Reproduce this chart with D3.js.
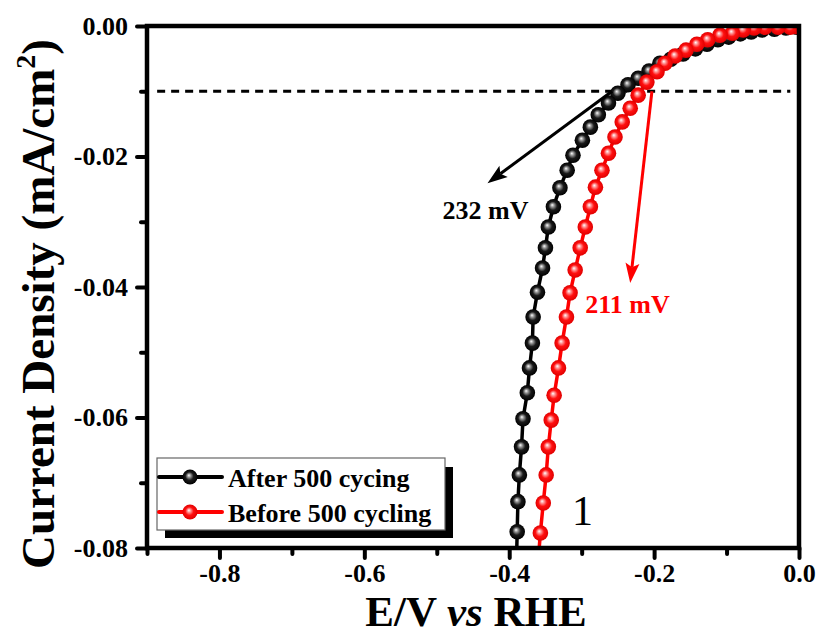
<!DOCTYPE html>
<html><head><meta charset="utf-8">
<script src="https://cdn.jsdelivr.net/npm/d3@7"></script>
<style>body{margin:0;background:#fff}svg{display:block}</style>
</head><body><svg id="chart" width="819" height="637"></svg>
<script>
// ---- data ----
const seriesNames = ["After 500 cycing", "Before 500 cycling"];
const afterX = [-0.003,-0.018,-0.034,-0.051,-0.066,-0.081,-0.097,-0.112,-0.127,-0.143,-0.160,-0.177,-0.192,-0.207,-0.222,-0.236,-0.250,-0.263,-0.277,-0.288,-0.299,-0.312,-0.320,-0.330,-0.339,-0.346,-0.350,-0.354,-0.361,-0.367,-0.368,-0.372,-0.375,-0.381,-0.383,-0.386,-0.388,-0.389];
const afterY = [-0.0002,-0.0003,-0.0005,-0.0006,-0.0009,-0.0012,-0.0017,-0.0021,-0.0028,-0.0035,-0.0043,-0.0051,-0.0057,-0.0069,-0.0080,-0.0090,-0.0103,-0.0118,-0.0136,-0.0155,-0.0175,-0.0198,-0.0221,-0.0248,-0.0277,-0.0308,-0.0340,-0.0371,-0.0408,-0.0446,-0.0486,-0.0524,-0.0562,-0.0602,-0.0645,-0.0688,-0.0729,-0.0775];
const beforeX = [-0.003,-0.012,-0.029,-0.047,-0.062,-0.077,-0.092,-0.109,-0.126,-0.141,-0.156,-0.171,-0.185,-0.196,-0.210,-0.222,-0.233,-0.244,-0.254,-0.263,-0.272,-0.281,-0.288,-0.295,-0.302,-0.309,-0.316,-0.321,-0.327,-0.332,-0.338,-0.342,-0.346,-0.349,-0.353,-0.357];
const beforeY = [-0.0001,-0.0002,-0.0002,-0.0002,-0.0003,-0.0006,-0.0011,-0.0014,-0.0021,-0.0028,-0.0037,-0.0046,-0.0057,-0.0070,-0.0086,-0.0106,-0.0126,-0.0147,-0.0170,-0.0195,-0.0221,-0.0247,-0.0277,-0.0308,-0.0340,-0.0374,-0.0409,-0.0446,-0.0486,-0.0524,-0.0566,-0.0604,-0.0645,-0.0688,-0.0731,-0.0777];
// line continuation below the last symbol (runs out of the frame)
const afterTail = [[-0.389,-0.0775],[-0.390,-0.0820]];
const beforeTail = [[-0.357,-0.0777],[-0.360,-0.0820]];

const xTicks = [-0.8,-0.6,-0.4,-0.2,0.0];
const xTickLabels = ["-0.8","-0.6","-0.4","-0.2","0.0"];
const xMinorTicks = [-0.9,-0.7,-0.5,-0.3,-0.1];
const yTicks = [0,-0.02,-0.04,-0.06,-0.08];
const yTickLabels = ["0.00","-0.02","-0.04","-0.06","-0.08"];
const yMinorTicks = [-0.01,-0.03,-0.05,-0.07];
const refCurrent = -0.01;
const refRange = [-0.886,-0.012];
const arrowBlack = {from:[-0.258,-0.0100], to:[-0.430,-0.0241], label:"232 mV", at:[-0.492,-0.0296]};
const arrowRed   = {from:[-0.203,-0.0100], to:[-0.233,-0.0394], label:"211 mV", at:[-0.295,-0.0440]};
const panelLabel = {text:"1", at:[-0.299,-0.0765]};

// ---- layout ----
const svg = d3.select("#chart");
const L = 147, R = 799, T = 26, B = 548;
const x = d3.scaleLinear().domain([-0.9, 0]).range([L, R]);
const y = d3.scaleLinear().domain([-0.08, 0]).range([B, T]);
const serif = "'Liberation Serif','Times New Roman',Times,serif";

const defs = svg.append("defs");
defs.append("clipPath").attr("id","plotClip").append("rect")
  .attr("x",L).attr("y",T).attr("width",R-L).attr("height",B-T);
function grad(id, stops){
  const g = defs.append("radialGradient").attr("id",id)
    .attr("cx","0.5").attr("cy","0.5").attr("r","0.5").attr("fx","0.42").attr("fy","0.38");
  stops.forEach(s=>g.append("stop").attr("offset",s[0]).attr("stop-color",s[1]));
}
grad("gBlack",[["0%","#ffffff"],["22%","#9a9a9a"],["55%","#1a1a1a"],["100%","#000000"]]);
grad("gRed",[["0%","#ffffff"],["22%","#ff9a9a"],["55%","#ff1010"],["100%","#e00000"]]);

// reference dashed line
svg.append("line")
  .attr("x1",x(refRange[0])).attr("x2",x(refRange[1]))
  .attr("y1",y(refCurrent)).attr("y2",y(refCurrent))
  .attr("stroke","#000").attr("stroke-width",3).attr("stroke-dasharray","8,6");

// curves
const plot = svg.append("g").attr("clip-path","url(#plotClip)");
const line = d3.line().x(d=>x(d[0])).y(d=>y(d[1]));
function drawSeries(xs, ys, tail, color, gid){
  const pts = xs.map((v,i)=>[v,ys[i]]);
  plot.append("path").datum(pts.concat(tail.slice(1))).attr("d",line)
    .attr("fill","none").attr("stroke",color).attr("stroke-width",3.5).attr("stroke-linejoin","round");
  plot.append("g").selectAll("circle").data(pts).join("circle")
    .attr("cx",d=>x(d[0])).attr("cy",d=>y(d[1])).attr("r",7.8)
    .attr("fill",`url(#${gid})`);
}
drawSeries(afterX, afterY, afterTail, "#000", "gBlack");
drawSeries(beforeX, beforeY, beforeTail, "#ff0000", "gRed");

// arrows
function arrow(a, color){
  const x1=x(a.from[0]), y1=y(a.from[1]), x2=x(a.to[0]), y2=y(a.to[1]);
  const ang = Math.atan2(y2-y1, x2-x1), len=20, w=7;
  const bx = x2 - len*Math.cos(ang), by = y2 - len*Math.sin(ang);
  svg.append("line").attr("x1",x1).attr("y1",y1).attr("x2",bx+4*Math.cos(ang)).attr("y2",by+4*Math.sin(ang))
    .attr("stroke",color).attr("stroke-width",3);
  const px = -Math.sin(ang)*w, py = Math.cos(ang)*w;
  svg.append("path").attr("d",`M${x2},${y2}L${bx+px},${by+py}L${bx+4*Math.cos(ang)},${by+4*Math.sin(ang)}L${bx-px},${by-py}Z`)
    .attr("fill",color);
  svg.append("text").attr("x",x(a.at[0])).attr("y",y(a.at[1]))
    .attr("font-family",serif).attr("font-weight","bold").attr("font-size",26)
    .attr("fill",color).text(a.label);
}
arrow(arrowBlack,"#000");
arrow(arrowRed,"#ff0000");

svg.append("text").attr("x",x(panelLabel.at[0])).attr("y",y(panelLabel.at[1]))
  .attr("text-anchor","middle").attr("font-family",serif).attr("font-size",42)
  .attr("fill","#000").text(panelLabel.text);

// frame
svg.append("rect").attr("x",L).attr("y",T).attr("width",R-L).attr("height",B-T)
  .attr("fill","none").attr("stroke","#000").attr("stroke-width",4.5);

// axes
const gx = svg.append("g").attr("transform",`translate(0,${B})`)
  .call(d3.axisBottom(x).tickValues(xTicks).tickSize(10).tickPadding(14)
        .tickFormat((d,i)=>xTickLabels[i]));
const gxm = svg.append("g").attr("transform",`translate(0,${B})`)
  .call(d3.axisBottom(x).tickValues(xMinorTicks).tickSize(6).tickFormat(""));
const gy = svg.append("g").attr("transform",`translate(${L},0)`)
  .call(d3.axisLeft(y).tickValues(yTicks).tickSize(10).tickPadding(9)
        .tickFormat((d,i)=>yTickLabels[i]));
const gym = svg.append("g").attr("transform",`translate(${L},0)`)
  .call(d3.axisLeft(y).tickValues(yMinorTicks).tickSize(6).tickFormat(""));
[gx,gxm,gy,gym].forEach(g=>{
  g.select(".domain").remove();
  g.selectAll(".tick line").attr("stroke","#000").attr("stroke-width",4).attr("stroke-linecap","round");
  g.selectAll(".tick text").attr("font-family",serif).attr("font-weight","bold")
    .attr("font-size",26).attr("fill","#000");
});
gx.selectAll(".tick text").attr("dy","0.71em").attr("y",16);

// axis titles
svg.append("text").attr("transform","translate(54,304) rotate(-90)")
  .attr("text-anchor","middle").attr("font-family",serif).attr("font-weight","bold")
  .attr("font-size",47).attr("fill","#000")
  .call(t=>{
    t.append("tspan").text("Current Density (mA/cm");
    t.append("tspan").attr("font-size",28).attr("dy",-19).text("2");
    t.append("tspan").attr("dy",19).text(")");
  });
svg.append("text").attr("x",476).attr("y",626)
  .attr("text-anchor","middle").attr("font-family",serif).attr("font-weight","bold")
  .attr("font-size",43).attr("fill","#000")
  .call(t=>{
    t.append("tspan").text("E/V ");
    t.append("tspan").attr("font-style","italic").text("vs");
    t.append("tspan").text(" RHE");
  });

// legend
const lg = svg.append("g");
lg.append("rect").attr("x",165).attr("y",467).attr("width",288).attr("height",71).attr("fill","#000");
lg.append("rect").attr("x",157).attr("y",458).attr("width",288).attr("height",72)
  .attr("fill","#fff").attr("stroke","#666").attr("stroke-width",1.2);
const legendItems = [
  {name:seriesNames[0], color:"#000", gid:"gBlack", row:0},
  {name:seriesNames[1], color:"#ff0000", gid:"gRed", row:1}
];
legendItems.forEach(it=>{
  const cy = 477 + it.row*35;
  lg.append("line").attr("x1",159).attr("x2",222).attr("y1",cy).attr("y2",cy)
    .attr("stroke",it.color).attr("stroke-width",4).attr("stroke-linecap","round");
  lg.append("circle").attr("cx",190).attr("cy",cy).attr("r",7.5).attr("fill",`url(#${it.gid})`);
  lg.append("text").attr("x",228).attr("y",cy+10)
    .attr("font-family",serif).attr("font-weight","bold").attr("font-size",26)
    .attr("fill","#000").text(it.name);
});
</script>
</body></html>
